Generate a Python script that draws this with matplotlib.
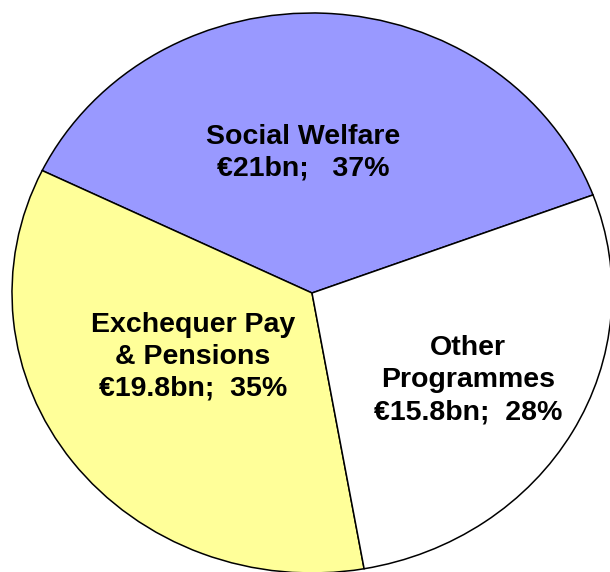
import matplotlib
matplotlib.use("Agg")
import matplotlib.pyplot as plt

# spending breakdown (EUR bn)
names = ["Social Welfare", "Exchequer Pay\n& Pensions", "Other\nProgrammes"]
amounts = [21.0, 19.8, 15.8]
shares = ["€21bn;   37%", "€19.8bn;  35%", "€15.8bn;  28%"]
colours = ["#9999FF", "#FFFF99", "#FFFFFF"]

W, H = 610, 572
fig = plt.figure(figsize=(W / 100, H / 100), dpi=100)
ax = fig.add_axes([0, 0, 1, 1])

ax.pie(amounts, colors=colours, startangle=20.5, counterclock=True,
       wedgeprops=dict(edgecolor="black", linewidth=1.1))
ax.set_aspect("auto")
# slightly squashed ellipse, clipped by the figure edge
cx, cy, rx, ry = 312, 279, 300, 280
ax.set_xlim(-cx / rx, (W - cx) / rx)
ax.set_ylim(-cy / ry, (H - cy) / ry)
ax.axis("off")

# label centres in pixels (from top-left)
label_pos = [(303, 153), (193, 357), (468, 380)]
for name, share, (px, py) in zip(names, shares, label_pos):
    fig.text(px / W, 1 - py / H, name + "\n" + share, ha="center", va="center",
             fontsize=20.5, fontweight="bold", family="Liberation Sans",
             linespacing=1.3)

fig.savefig("out.png", dpi=100)
